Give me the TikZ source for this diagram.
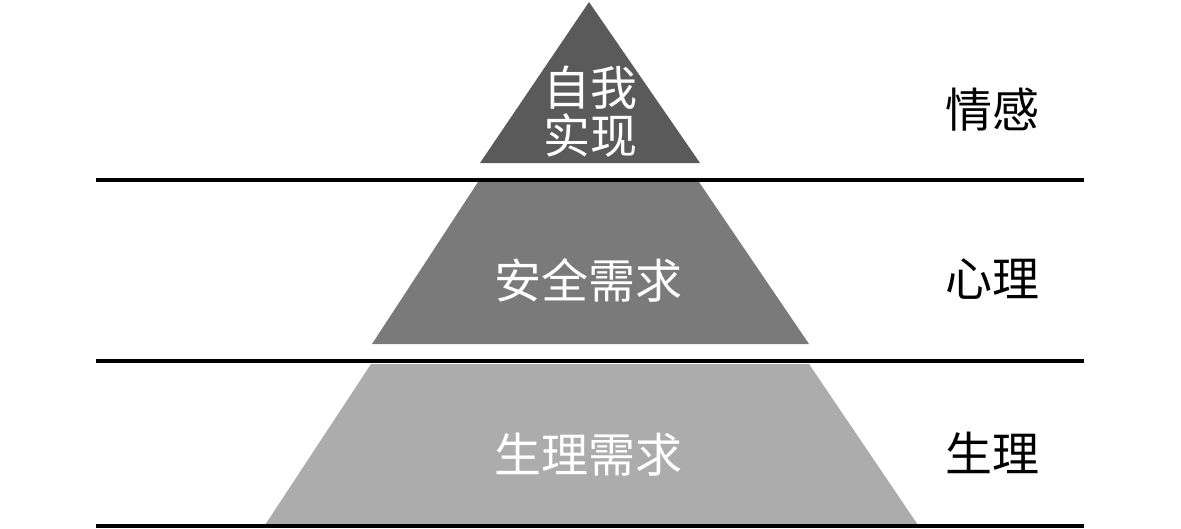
\documentclass[tikz,border=0pt]{standalone}
\usepackage{fontspec}
\newfontfamily\cjk{Noto Sans CJK SC}
\definecolor{topgray}{RGB}{90,90,90}
\definecolor{midgray}{RGB}{122,122,122}
\definecolor{lowgray}{RGB}{172,172,172}
\begin{document}
\begin{tikzpicture}[x=1pt,y=-1pt,
  layertext/.style={text=white,font=\cjk\fontsize{47}{48}\selectfont,align=center,inner sep=0pt},
  sidetext/.style={text=black,font=\cjk\fontsize{47}{48}\selectfont,inner sep=0pt},
  rule/.style={line width=4pt,black}]
\useasboundingbox (0,0) rectangle (1181,528);
\fill[topgray] (589,2) -- (700,163) -- (480,163) -- cycle;
\fill[midgray] (478,182) -- (699,182) -- (809,344) -- (372,344) -- cycle;
\fill[lowgray] (371,364) -- (809,364) -- (918,525) -- (265,525) -- cycle;
\draw[rule] (96,179.5) -- (1084,179.5);
\draw[rule] (96,361) -- (1084,361);
\draw[rule] (96,526) -- (1084,526);
\node[layertext] (self) at (590,112) {自我\\实现};
\node[layertext] (safe) at (588,280) {安全需求};
\node[layertext] (phys) at (588,455) {生理需求};
\node[sidetext] (emo) at (992,110) {情感};
\node[sidetext] (psy) at (992,279) {心理};
\node[sidetext] (bio) at (992,453) {生理};
\end{tikzpicture}
\end{document}
